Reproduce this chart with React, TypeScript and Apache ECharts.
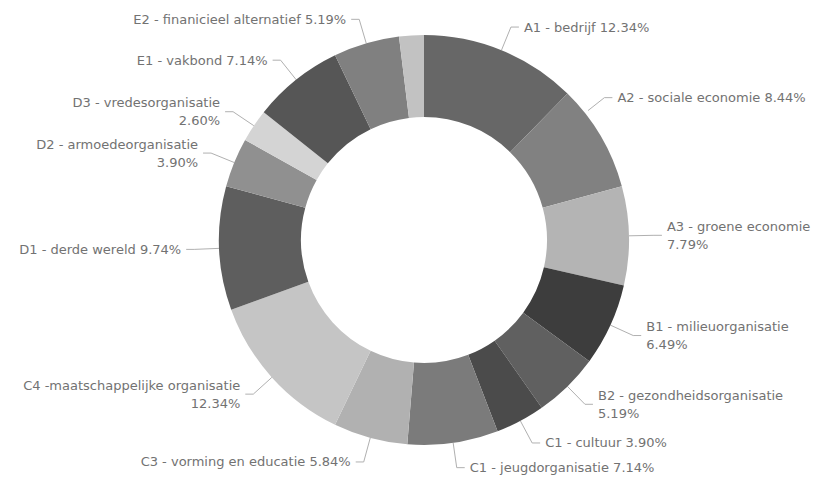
import React, { useEffect, useRef } from "react";
import * as echarts from "echarts";

const names = [
  "A1 - bedrijf",
  "A2 - sociale economie",
  "A3 - groene economie",
  "B1 - milieuorganisatie",
  "B2 - gezondheidsorganisatie",
  "C1 - cultuur",
  "C1 - jeugdorganisatie",
  "C3 - vorming en educatie",
  "C4 -maatschappelijke organisatie",
  "D1 - derde wereld",
  "D2 - armoedeorganisatie",
  "D3 - vredesorganisatie",
  "E1 - vakbond",
  "E2 - finanicieel alternatief",
  "Overig",
];
const counts = [19, 13, 12, 10, 8, 6, 11, 9, 19, 15, 6, 4, 11, 8, 3];
const colors = [
  "#676767",
  "#818181",
  "#b4b4b4",
  "#3d3d3d",
  "#606060",
  "#4b4b4b",
  "#7b7b7b",
  "#b1b1b1",
  "#c5c5c5",
  "#5e5e5e",
  "#909090",
  "#d4d4d4",
  "#565656",
  "#808080",
  "#c2c2c2",
];
const wrapped = [false, false, true, true, true, false, false, false, true, false, true, true, false, false, false];
const showLabel = [true, true, true, true, true, true, true, true, true, true, true, true, true, true, false];

const CX = 424;
const CY = 240;
const R_IN = 123;
const R_OUT = 205;

export default function App() {
  const ref = useRef<HTMLDivElement>(null);
  useEffect(() => {
    const chart = echarts.init(ref.current!, null, { renderer: "svg" });
    const total = counts.reduce((a, b) => a + b, 0);
    const data = names.map((n, i) => ({
      name: n,
      value: counts[i],
      itemStyle: { color: colors[i] },
      label: { show: showLabel[i] },
      labelLine: { show: showLabel[i] },
    }));
    chart.setOption({
      animation: false,
      backgroundColor: "#ffffff",
      series: [
        {
          type: "pie",
          center: [CX, CY],
          radius: [R_IN, R_OUT],
          startAngle: 90,
          clockwise: true,
          avoidLabelOverlap: true,
          data,
          label: {
            color: "#727272",
            fontFamily: "DejaVu Sans",
            fontSize: 13,
            lineHeight: 18,
            overflow: "none",
            formatter: (p: any) =>
              p.name +
              (wrapped[p.dataIndex] ? "\n" : " ") +
              ((counts[p.dataIndex] / total) * 100).toFixed(2) +
              "%",
          },
          labelLine: {
            length: 25,
            length2: 8,
            lineStyle: { color: "#b0b0b0", width: 1 },
          },
          labelLayout: (params: any) => {
            if (params.dataIndex !== 1 || !params.labelLinePoints) return {};
            const dx = -18;
            const dy = -26;
            const pts = params.labelLinePoints;
            const p1 = [pts[1][0] + dx, pts[1][1] + dy];
            const p2 = [pts[2][0] + dx, pts[2][1] + dy];
            const vx = p1[0] - CX;
            const vy = p1[1] - CY;
            const len = Math.sqrt(vx * vx + vy * vy);
            const p0 = [CX + (vx / len) * (R_OUT + 4), CY + (vy / len) * (R_OUT + 4)];
            return { dx, dy, labelLinePoints: [p0, p1, p2] };
          },
          emphasis: { disabled: true },
        },
      ],
    });
    return () => chart.dispose();
  }, []);
  return (
    <div
      ref={ref}
      style={{ position: "absolute", left: 0, top: 0, width: 821, height: 478 }}
    />
  );
}
